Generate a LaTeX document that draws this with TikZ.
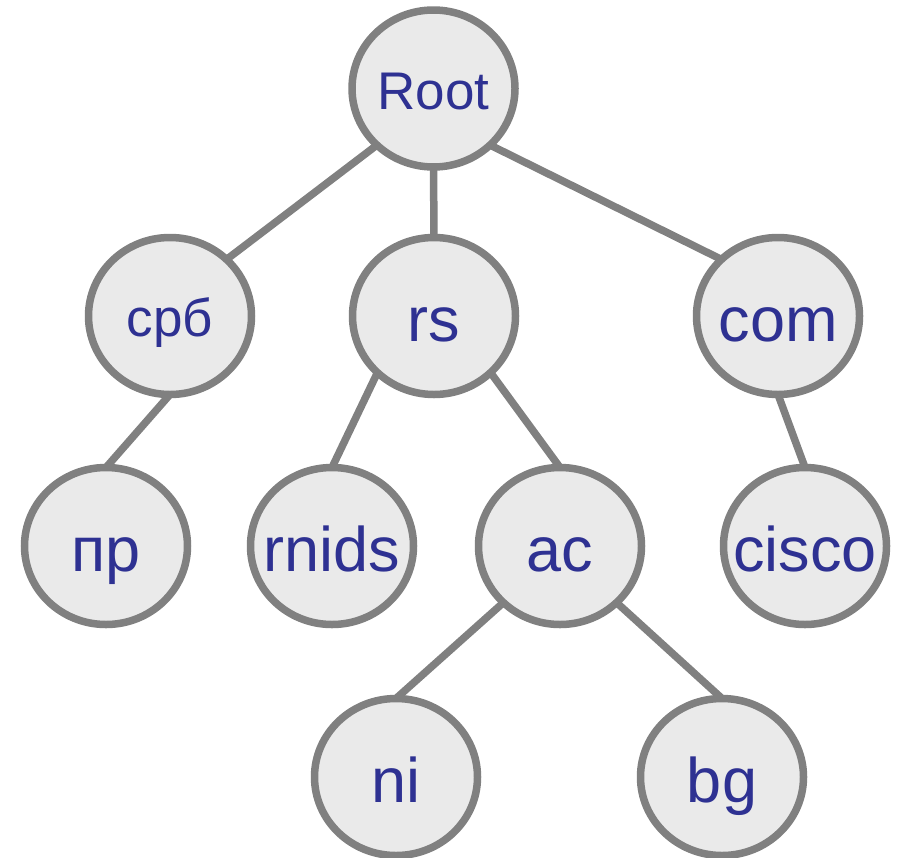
\documentclass[tikz,border=0pt]{standalone}
\usepackage{fontspec}
\setmainfont{Liberation Sans}
\usetikzlibrary{shapes.geometric,backgrounds}
\definecolor{edgegray}{RGB}{128,128,128}
\definecolor{nodefill}{RGB}{234,234,234}
\definecolor{textblue}{RGB}{46,49,146}
\newcommand\ctrtxt[1]{\makebox[0pt][c]{#1}}
\tikzset{
  dnode/.style={ellipse, draw=edgegray, fill=nodefill, line width=7.5pt,
    minimum width=163pt, minimum height=157pt, inner sep=0pt, outer sep=0pt,
    text=textblue, font=\fontsize{63}{68}\selectfont, text height=50pt, text depth=0pt},
  dsmall/.style={dnode, font=\fontsize{53}{58}\selectfont, text height=41pt},
  link/.style={draw=edgegray, line width=7.5pt}
}
\begin{document}
\begin{tikzpicture}[x=1pt,y=-1pt]
\useasboundingbox (0,0) rectangle (901,857);
\node[dsmall] (root) at (433.5,88.5) {\ctrtxt{Root}};
\node[dsmall] (srb) at (170,316) {\ctrtxt{срб}};
\node[dnode] (rs) at (434,316) {\ctrtxt{rs}};
\node[dnode] (com) at (778,316) {\ctrtxt{com}};
\node[dnode] (pr) at (106,546) {\ctrtxt{пр}};
\node[dnode] (rnids) at (332,546) {\ctrtxt{rnids}};
\node[dnode] (ac) at (560,546) {\ctrtxt{ac}};
\node[dnode] (cisco) at (805,546) {\ctrtxt{cisco}};
\node[dnode] (ni) at (396,777) {\ctrtxt{ni}};
\node[dnode] (bg) at (722,777) {\ctrtxt{bg}};
\begin{scope}[on background layer]
\draw[link] (root.225) -- (srb.45);
\draw[link] (root.south) -- (rs.north);
\draw[link] (root.-45) -- (com.135);
\draw[link] (srb.south) -- (pr.north);
\draw[link] (rs.225) -- (rnids.north);
\draw[link] (rs.-45) -- (ac.north);
\draw[link] (com.south) -- (cisco.north);
\draw[link] (ac.225) -- (ni.north);
\draw[link] (ac.-45) -- (bg.north);
\end{scope}
\end{tikzpicture}
\end{document}
